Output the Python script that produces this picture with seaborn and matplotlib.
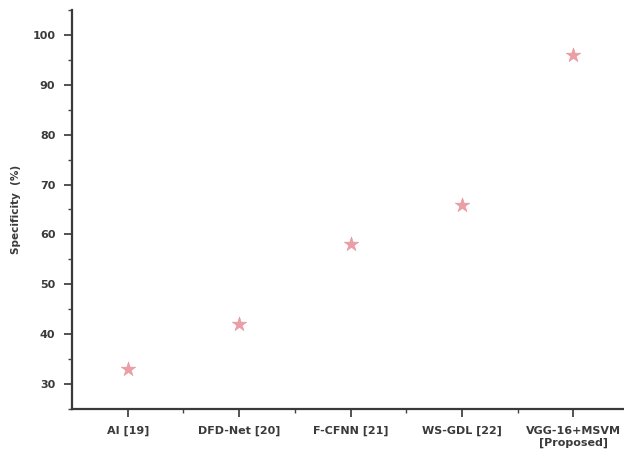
import matplotlib
matplotlib.use("Agg")
import matplotlib.pyplot as plt
from matplotlib.ticker import MultipleLocator
import seaborn as sns
import pandas as pd

methods = ["AI [19]", "DFD-Net [20]", "F-CFNN [21]", "WS-GDL [22]", "VGG-16+MSVM\n[Proposed]"]
specificity = [33, 42, 58, 66, 96]
yticks = [30, 40, 50, 60, 70, 80, 90, 100]

df = pd.DataFrame({"method": methods, "specificity": specificity})

sns.set_style("ticks")
plt.rcParams['font.family'] = ['DejaVu Sans']

fig = plt.figure(figsize=(6.24, 4.57), dpi=100)
ax = fig.add_axes([72/624, 1-409/457, (629-72)/624, (409-10)/457])

sns.scatterplot(data=df, x="method", y="specificity", ax=ax, marker="*",
                s=120, color="#ec9ea6", edgecolor="#e8949c", linewidth=0.4, zorder=3)

ax.set_xlim(-0.5, 4.5)
ax.set_ylim(25, 105)
ax.yaxis.set_minor_locator(MultipleLocator(5))
ax.set_xticks(range(len(methods)))
ax.set_xticks([i + 0.5 for i in range(len(methods) - 1)], minor=True)
ax.set_yticks(yticks)
ax.set_xticklabels(methods, fontsize=8, fontweight="bold", color="#3a3a3a", linespacing=1.2)
ax.set_yticklabels([str(v) for v in yticks], fontsize=8, fontweight="bold", color="#3a3a3a")

ax.tick_params(axis="both", which="major", direction="out", length=6, width=1.3, color="#444444")
ax.tick_params(axis="both", which="minor", direction="out", length=3, width=1.0, color="#444444")
ax.tick_params(axis="x", pad=6)
ax.tick_params(axis="y", pad=6)

for side in ["top", "right"]:
    ax.spines[side].set_visible(False)
for side in ["left", "bottom"]:
    ax.spines[side].set_linewidth(1.6)
    ax.spines[side].set_color("#3a3a3a")

ax.set_xlabel("")
ax.set_ylabel("Specificity  (%)", fontsize=7.5, fontweight="bold", color="#3a3a3a", labelpad=8)

fig.savefig("out.png", dpi=100)
